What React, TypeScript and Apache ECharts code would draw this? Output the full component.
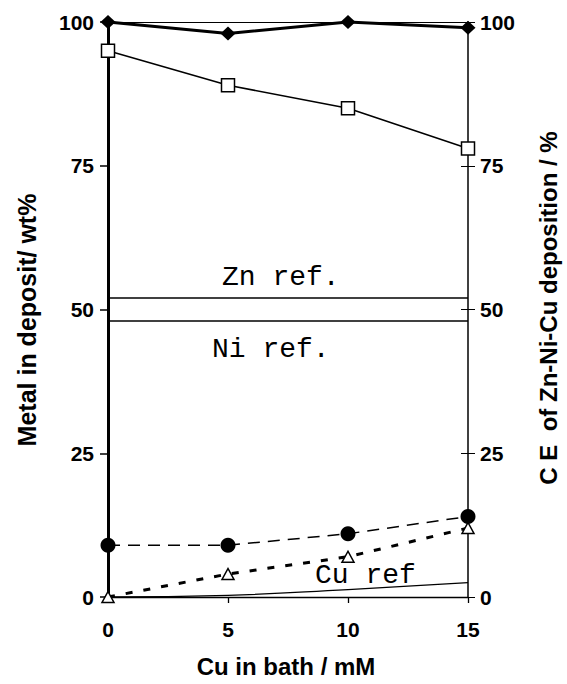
import React, { useEffect, useRef } from "react";
import * as echarts from "echarts";

const xValues = [0, 5, 10, 15];
const diamondValues = [100, 98, 100, 99];
const squareValues = [95, 89, 85, 78];
const circleValues = [9, 9, 11, 14];
const triangleValues = [0, 4, 7, 12];
const cuRefValues = [0, 0.3, 1.3, 2.5];
const znRefValue = 52;
const niRefValue = 48;
const xTicks = { min: 0, max: 15, interval: 5 };
const yTicks = { min: 0, max: 100, interval: 25 };

const pairs = (vals: number[]) => xValues.map((x, i) => [x, vals[i]]);
const flat = (v: number) => [[xValues[0], v], [xValues[xValues.length - 1], v]];

const SANS = "'Liberation Sans', Arial, sans-serif";
const MONO = "'Liberation Mono', 'Courier New', monospace";

export default function App() {
  const ref = useRef<HTMLDivElement>(null);
  useEffect(() => {
    if (!ref.current) return;
    const chart = echarts.init(ref.current, null, { renderer: "svg" });
    const tickLabel = { fontFamily: SANS, fontWeight: "bold" as const, fontSize: 21, color: "#000" };
    chart.setOption({
      animation: false,
      backgroundColor: "#fff",
      grid: { left: 108, right: 99, top: 22, bottom: 87 },
      xAxis: [
        {
          type: "value", position: "bottom", ...xTicks,
          axisLine: { show: true, onZero: false, lineStyle: { color: "#000", width: 1.3 } },
          axisTick: { show: true, length: 6, lineStyle: { color: "#000", width: 1.3 } },
          axisLabel: { ...tickLabel, margin: 22 },
          splitLine: { show: false },
        },
        {
          type: "value", position: "top", ...xTicks,
          axisLine: { show: true, onZero: false, lineStyle: { color: "#000", width: 1 } },
          axisTick: { show: false }, axisLabel: { show: false }, splitLine: { show: false },
        },
      ],
      yAxis: [
        {
          type: "value", position: "left", ...yTicks,
          axisLine: { show: true, onZero: false, lineStyle: { color: "#000", width: 3 } },
          axisTick: { show: true, length: 8, lineStyle: { color: "#000", width: 1.5 } },
          axisLabel: { ...tickLabel, margin: 14 },
          splitLine: { show: false },
        },
        {
          type: "value", position: "right", ...yTicks,
          axisLine: { show: true, onZero: false, lineStyle: { color: "#000", width: 1.5 } },
          axisTick: { show: true, length: 7, lineStyle: { color: "#000", width: 1 } },
          axisLabel: { ...tickLabel, margin: 12 },
          splitLine: { show: false },
        },
        {
          type: "value", position: "right", ...yTicks,
          axisLine: { show: false, onZero: false },
          axisTick: { show: true, inside: true, length: 7, lineStyle: { color: "#000", width: 1 } },
          axisLabel: { show: false }, splitLine: { show: false },
        },
      ],
      series: [
        {
          name: "Zn ref", type: "line", data: flat(znRefValue), symbol: "none",
          lineStyle: { color: "#000", width: 1.3 },
        },
        {
          name: "Ni ref", type: "line", data: flat(niRefValue), symbol: "none",
          lineStyle: { color: "#000", width: 1.3 },
        },
        {
          name: "Cu ref", type: "line", data: pairs(cuRefValues), symbol: "none", smooth: true,
          lineStyle: { color: "#000", width: 1.3 },
        },
        {
          name: "diamond", type: "line", data: pairs(diamondValues), symbol: "diamond", symbolSize: [15, 14],
          clip: false, itemStyle: { color: "#000" }, lineStyle: { color: "#000", width: 3 },
        },
        {
          name: "square", type: "line", yAxisIndex: 1, data: pairs(squareValues), symbol: "rect", symbolSize: 13,
          clip: false, itemStyle: { color: "#fff", borderColor: "#000", borderWidth: 1.5 },
          lineStyle: { color: "#000", width: 1.5 },
        },
        {
          name: "circle", type: "line", data: pairs(circleValues), symbol: "circle", symbolSize: 15,
          clip: false, itemStyle: { color: "#000" },
          lineStyle: { color: "#000", width: 1.5, type: [12, 8] },
        },
        {
          name: "triangle", type: "line", data: pairs(triangleValues), symbol: "triangle", symbolSize: [12, 11],
          clip: false, itemStyle: { color: "#fff", borderColor: "#000", borderWidth: 1.5 },
          lineStyle: { color: "#000", width: 3, type: [7, 11] },
        },
      ],
      graphic: [
        { type: "text", left: 222, top: 263, style: { text: "Zn ref.", font: `28px ${MONO}`, fill: "#000" } },
        { type: "text", left: 212, top: 335, style: { text: "Ni ref.", font: `28px ${MONO}`, fill: "#000" } },
        { type: "text", left: 315, top: 561, style: { text: "Cu ref", font: `28px ${MONO}`, fill: "#000" } },
        {
          type: "text", x: 27, y: 320, rotation: Math.PI / 2,
          style: { text: "Metal in deposit/ wt%", font: `bold 25px ${SANS}`, fill: "#000", align: "center", verticalAlign: "middle" },
        },
        {
          type: "text", x: 548, y: 308, rotation: Math.PI / 2,
          style: { text: "C E  of Zn-Ni-Cu deposition / %", font: `bold 24px ${SANS}`, fill: "#000", align: "center", verticalAlign: "middle" },
        },
        {
          type: "text", x: 286, y: 666,
          style: { text: "Cu in bath / mM", font: `bold 24px ${SANS}`, fill: "#000", align: "center", verticalAlign: "middle" },
        },
      ],
    });
    return () => chart.dispose();
  }, []);
  return <div ref={ref} style={{ position: "fixed", left: 0, top: 0, width: 567, height: 684 }} />;
}
